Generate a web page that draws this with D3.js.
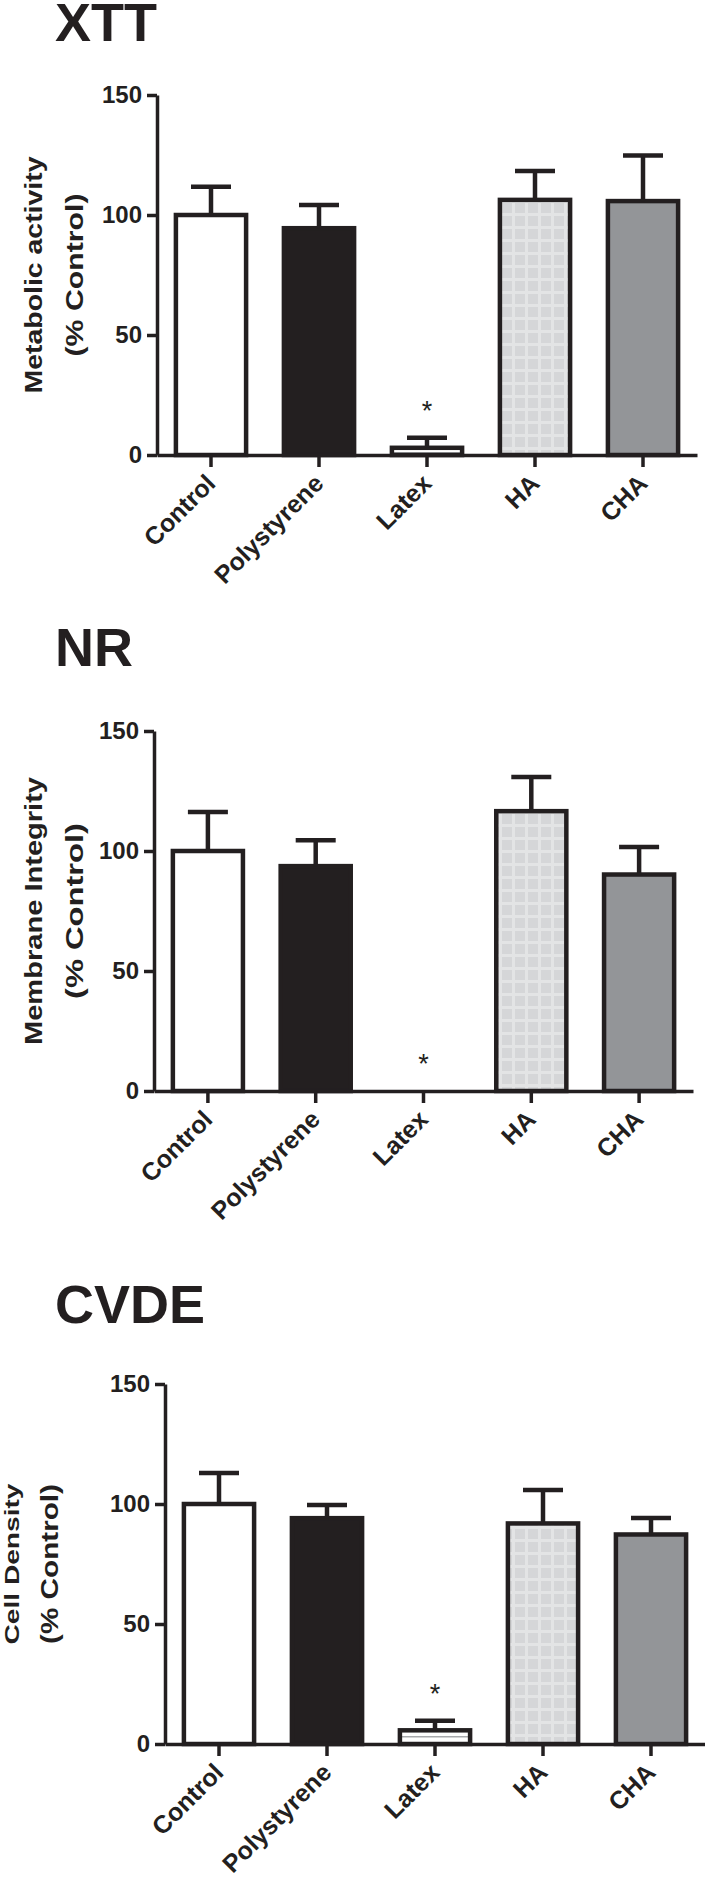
<!DOCTYPE html>
<html>
<head>
<meta charset="utf-8">
<script src="https://cdn.jsdelivr.net/npm/d3@7"></script>
<style>
  body { margin: 0; background: #fff; }
  svg { display: block; }
  text { font-family: "Liberation Sans", Arial, Helvetica, sans-serif; fill: #231f20; }
</style>
</head>
<body>
<script>
// data
const categories = ["Control", "Polystyrene", "Latex", "HA", "CHA"];
const yTicks = [0, 50, 100, 150];

const xttMean = [100, 94.5, 3.0, 106.3, 105.8];
const xttErr  = [11.8, 9.7, 4.2, 12.0, 19.0];
const nrMean  = [100, 93.7, 0, 116.6, 90.2];
const nrErr   = [16.3, 10.8, 0, 14.2, 11.5];
const cvdeMean = [100, 94.1, 5.7, 91.9, 87.3];
const cvdeErr  = [12.9, 5.5, 4.0, 13.9, 6.9];

// where the asterisk sits (value units), null = none
const xttStar  = [null, null, 21, null, null];
const nrStar   = [null, null, 13.7, null, null];
const cvdeStar = [null, null, 23.5, null, null];

const panelTitles = ["XTT", "NR", "CVDE"];
const yLabels = [
  ["Metabolic activity", "(% Control)"],
  ["Membrane Integrity", "(% Control)"],
  ["Cell Density", "(% Control)"]
];

// layout of each panel (pixels)
const layout = [
  { titleY: 41,   left: 157, right: 697, top: 95,   bottom: 455,  lab: [42, 83],   labLen: [237, 163], labSize: [23, 23] },
  { titleY: 666,  left: 154, right: 693, top: 731,  bottom: 1091, lab: [42, 83],   labLen: [268, 176], labSize: [23, 23] },
  { titleY: 1323, left: 165, right: 705, top: 1384, bottom: 1744, lab: [18.5, 58], labLen: [161, 160], labSize: [20, 23] }
];

const ink = "#231f20";
const fills = ["#ffffff", "#231f20", "url(#stripes)", "url(#checker)", "#939598"];

const svg = d3.select("body")
              .append("svg")
              .attr("width", 705)
              .attr("height", 1890);

const defs = svg.append("defs");

const checker = defs.append("pattern")
                    .attr("id", "checker")
                    .attr("patternUnits", "userSpaceOnUse")
                    .attr("width", 13)
                    .attr("height", 13);
checker.append("rect").attr("width", 13).attr("height", 13).attr("fill", "#d5d6d8");
checker.append("rect").attr("x", 5).attr("width", 3).attr("height", 13).attr("fill", "#e3e4e5");
checker.append("rect").attr("y", 5).attr("width", 13).attr("height", 3).attr("fill", "#e3e4e5");

const stripes = defs.append("pattern")
                    .attr("id", "stripes")
                    .attr("patternUnits", "userSpaceOnUse")
                    .attr("width", 6)
                    .attr("height", 6);
stripes.append("rect").attr("width", 6).attr("height", 6).attr("fill", "#ffffff");
stripes.append("rect").attr("y", 2).attr("width", 6).attr("height", 1.5).attr("fill", "#a7a9ac");

const panels = [
  { mean: xttMean, err: xttErr, star: xttStar },
  { mean: nrMean, err: nrErr, star: nrStar },
  { mean: cvdeMean, err: cvdeErr, star: cvdeStar }
];

panels.forEach((p, i) => {
  const L = layout[i];
  const g = svg.append("g");

  // title
  g.append("text")
   .attr("x", 55)
   .attr("y", L.titleY)
   .attr("font-size", 54)
   .attr("font-weight", "bold")
   .text(panelTitles[i]);

  const x = d3.scaleBand()
              .domain(categories)
              .range([L.left, L.right])
              .paddingInner(0.35)
              .paddingOuter(0.175);

  const y = d3.scaleLinear()
              .domain([0, 150])
              .range([L.bottom, L.top]);

  const rows = categories.map((c, k) => ({ c: c, m: p.mean[k], e: p.err[k], s: p.star[k], f: fills[k] }));

  // bars
  g.selectAll("rect.bar")
   .data(rows.filter(d => d.m > 0))
   .enter()
   .append("rect")
   .attr("class", "bar")
   .attr("x", d => x(d.c))
   .attr("y", d => y(d.m))
   .attr("width", x.bandwidth())
   .attr("height", d => y(0) - y(d.m))
   .attr("fill", d => d.f)
   .attr("stroke", ink)
   .attr("stroke-width", 4.5);

  // error bars (upper only)
  const eb = g.selectAll("g.err")
              .data(rows.filter(d => d.e > 0))
              .enter()
              .append("g")
              .attr("class", "err")
              .attr("stroke", ink)
              .attr("stroke-width", 4.5);
  eb.append("line")
    .attr("x1", d => x(d.c) + x.bandwidth() / 2)
    .attr("x2", d => x(d.c) + x.bandwidth() / 2)
    .attr("y1", d => y(d.m))
    .attr("y2", d => y(d.m + d.e));
  eb.append("line")
    .attr("x1", d => x(d.c) + x.bandwidth() / 2 - 20)
    .attr("x2", d => x(d.c) + x.bandwidth() / 2 + 20)
    .attr("y1", d => y(d.m + d.e))
    .attr("y2", d => y(d.m + d.e));

  // significance marks
  g.selectAll("text.star")
   .data(rows.filter(d => d.s != null))
   .enter()
   .append("text")
   .attr("class", "star")
   .attr("x", d => x(d.c) + x.bandwidth() / 2)
   .attr("y", d => y(d.s) + 15)
   .attr("text-anchor", "middle")
   .attr("font-size", 27)
   .attr("fill", "#3a3a3a")
   .text("*");

  // y axis
  const yAxis = g.append("g")
                 .attr("transform", `translate(${L.left},0)`)
                 .call(d3.axisLeft(y).tickValues(yTicks).tickSize(10).tickSizeOuter(0).tickPadding(5));

  // x axis
  const xAxis = g.append("g")
                 .attr("transform", `translate(0,${L.bottom})`)
                 .call(d3.axisBottom(x).tickSize(12).tickSizeOuter(0));

  [yAxis, xAxis].forEach(a => {
    a.select(".domain").attr("stroke", ink).attr("stroke-width", 3.5);
    a.selectAll(".tick line").attr("stroke", ink).attr("stroke-width", 3.5);
    a.selectAll("text")
     .attr("fill", ink)
     .attr("font-size", 24)
     .attr("font-weight", "bold")
     .attr("font-family", "'Liberation Sans', Arial, sans-serif");
  });

  xAxis.selectAll(".tick text")
       .attr("x", 0)
       .attr("y", 0)
       .attr("dy", 0)
       .attr("font-size", 25)
       .attr("text-anchor", "end")
       .attr("transform", "translate(6,30) rotate(-45)");

  // y axis title, two lines
  const midY = (L.top + L.bottom) / 2;
  yLabels[i].forEach((t, k) => {
    g.append("text")
     .attr("transform", `translate(${L.lab[k]},${midY}) rotate(-90)`)
     .attr("text-anchor", "middle")
     .attr("font-size", L.labSize[k])
     .attr("font-weight", "bold")
     .attr("textLength", L.labLen[k])
     .attr("lengthAdjust", "spacingAndGlyphs")
     .text(t);
  });
});
</script>
</body>
</html>
